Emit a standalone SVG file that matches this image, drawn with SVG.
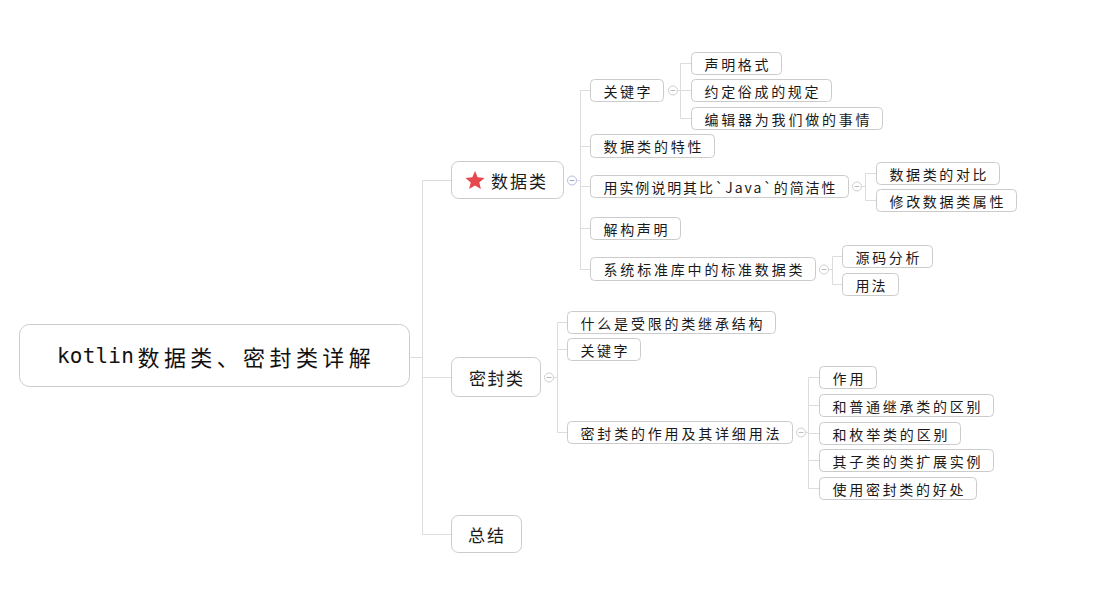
<svg xmlns="http://www.w3.org/2000/svg" width="1118" height="612" viewBox="0 0 1118 612">
<defs>
<style>
.bg{fill:#ffffff}
.n rect{fill:#ffffff;stroke:#cbcbcb;stroke-width:1}
.t{font-family:"Noto Sans CJK SC","Noto Sans",sans-serif;font-size:14px;fill:#1a1a1a;dominant-baseline:central}
.t1{font-family:"Noto Sans CJK SC","Noto Sans",sans-serif;font-size:17px;fill:#1a1a1a;dominant-baseline:central}
.t0{font-family:"Noto Sans CJK SC","Noto Sans",sans-serif;font-size:22px;fill:#111111;dominant-baseline:central}
.c path{fill:none;stroke:#dcdcdc;stroke-width:1}
.tg circle{fill:#ffffff;stroke:#cfcfcf;stroke-width:1}
.tg line{stroke:#bdbdbd;stroke-width:1}
.tg.b circle{stroke:#b4bbe2}
.tg.b line{stroke:#9ea6d6}
</style>
</defs>
<rect class="bg" x="0" y="0" width="1118" height="612"/>

<g id="connectors" class="c">
<path d="M410.5 357.5 H422.5 M422.5 180.5 V534.5 M422.5 180.5 H451 M422.5 377.5 H451 M422.5 534.5 H451"/>
<path d="M577 180.5 H580.5 M580.5 90.5 V269.5 M580.5 90.5 H590 M580.5 146.5 H590 M580.5 186.5 H590 M580.5 228.5 H590 M580.5 269.5 H590"/>
<path d="M677.5 90.5 H680.5 M680.5 63.5 V118.5 M680.5 63.5 H691 M680.5 90.5 H691 M680.5 118.5 H691"/>
<path d="M861.5 186.5 H865.5 M865.5 173.5 V200.5 M865.5 173.5 H876 M865.5 200.5 H876"/>
<path d="M828.5 269.5 H832.5 M832.5 256.5 V284.5 M832.5 256.5 H842 M832.5 284.5 H842"/>
<path d="M553.5 377.5 H557.5 M557.5 322.5 V432.5 M557.5 322.5 H567 M557.5 349.5 H567 M557.5 432.5 H567"/>
<path d="M805.5 432.5 H808.5 M808.5 377.5 V488.5 M808.5 377.5 H819 M808.5 405.5 H819 M808.5 433.5 H819 M808.5 460.5 H819 M808.5 488.5 H819"/>
</g>

<g id="toggles">
<g class="tg b"><circle cx="572" cy="180.5" r="4.5"/><line x1="569.5" y1="180.5" x2="574.5" y2="180.5"/></g>
<g class="tg"><circle cx="673" cy="90.5" r="4.5"/><line x1="670.5" y1="90.5" x2="675.5" y2="90.5"/></g>
<g class="tg"><circle cx="857" cy="186.5" r="4.5"/><line x1="854.5" y1="186.5" x2="859.5" y2="186.5"/></g>
<g class="tg"><circle cx="824" cy="269.5" r="4.5"/><line x1="821.5" y1="269.5" x2="826.5" y2="269.5"/></g>
<g class="tg"><circle cx="549" cy="377.5" r="4.5"/><line x1="546.5" y1="377.5" x2="551.5" y2="377.5"/></g>
<g class="tg"><circle cx="801" cy="432.5" r="4.5"/><line x1="798.5" y1="432.5" x2="803.5" y2="432.5"/></g>
</g>

<g id="root" class="n">
<rect x="19.5" y="324.5" width="390" height="62" rx="10"/>
<text class="t0" y="356"><tspan x="57" font-family="DejaVu Sans Mono, Liberation Mono, monospace" font-size="21" letter-spacing="0.2">kotlin</tspan><tspan x="137.5" letter-spacing="4.4">数据类、密封类详解</tspan></text>
</g>

<g id="n-data" class="n">
<rect x="451.5" y="161.5" width="112" height="37" rx="7"/>
<polygon fill="#e5484d" points="475,171 477.65,177.36 484.51,177.91 479.28,182.39 480.88,189.09 475,185.5 469.12,189.09 470.72,182.39 465.49,177.91 472.35,177.36"/>
<text class="t1" x="491" y="180.5" textLength="55" lengthAdjust="spacing">数据类</text>
</g>

<g id="n-sealed" class="n">
<rect x="451.5" y="357.5" width="89" height="39" rx="7"/>
<text class="t1" x="469" y="377.5" textLength="54" lengthAdjust="spacing">密封类</text>
</g>

<g id="n-summary" class="n">
<rect x="451.5" y="515.5" width="70" height="37" rx="7"/>
<text class="t1" x="468" y="534.5" textLength="36" lengthAdjust="spacing">总结</text>
</g>

<g id="n-keyword" class="n">
<rect x="590.5" y="79.5" width="73" height="22" rx="4"/>
<text class="t" x="603.5" y="90.5" textLength="47" lengthAdjust="spacing">关键字</text>
</g>
<g id="n-decl-format" class="n">
<rect x="691.5" y="52.5" width="90" height="22" rx="4"/>
<text class="t" x="704.5" y="63.5" textLength="64" lengthAdjust="spacing">声明格式</text>
</g>
<g id="n-convention" class="n">
<rect x="691.5" y="79.5" width="140" height="22" rx="4"/>
<text class="t" x="704.5" y="90.5" textLength="114" lengthAdjust="spacing">约定俗成的规定</text>
</g>
<g id="n-compiler" class="n">
<rect x="691.5" y="107.5" width="191" height="22" rx="4"/>
<text class="t" x="704.5" y="118.5" textLength="165" lengthAdjust="spacing">编辑器为我们做的事情</text>
</g>
<g id="n-features" class="n">
<rect x="590.5" y="134.5" width="124" height="23" rx="4"/>
<text class="t" x="603.5" y="146" textLength="98" lengthAdjust="spacing">数据类的特性</text>
</g>
<g id="n-example" class="n">
<rect x="590.5" y="175.5" width="258" height="22" rx="4"/>
<text class="t" x="603.5" y="186.5" textLength="232" lengthAdjust="spacing">用实例说明其比`Java`的简洁性</text>
</g>
<g id="n-compare" class="n">
<rect x="876.5" y="162.5" width="123" height="22" rx="4"/>
<text class="t" x="889.5" y="173.5" textLength="97" lengthAdjust="spacing">数据类的对比</text>
</g>
<g id="n-modify" class="n">
<rect x="876.5" y="189.5" width="140" height="22" rx="4"/>
<text class="t" x="889.5" y="200.5" textLength="114" lengthAdjust="spacing">修改数据类属性</text>
</g>
<g id="n-destructure" class="n">
<rect x="590.5" y="217.5" width="90" height="22" rx="4"/>
<text class="t" x="603.5" y="228.5" textLength="64" lengthAdjust="spacing">解构声明</text>
</g>
<g id="n-stdlib" class="n">
<rect x="590.5" y="257.5" width="225" height="23" rx="4"/>
<text class="t" x="603.5" y="269" textLength="199" lengthAdjust="spacing">系统标准库中的标准数据类</text>
</g>
<g id="n-source" class="n">
<rect x="842.5" y="245.5" width="90" height="22" rx="4"/>
<text class="t" x="855.5" y="256.5" textLength="64" lengthAdjust="spacing">源码分析</text>
</g>
<g id="n-usage" class="n">
<rect x="842.5" y="273.5" width="56" height="22" rx="4"/>
<text class="t" x="855.5" y="284.5" textLength="30" lengthAdjust="spacing">用法</text>
</g>

<g id="n-restricted" class="n">
<rect x="567.5" y="311.5" width="208" height="22" rx="4"/>
<text class="t" x="580.5" y="322.5" textLength="182" lengthAdjust="spacing">什么是受限的类继承结构</text>
</g>
<g id="n-keyword2" class="n">
<rect x="567.5" y="338.5" width="73" height="22" rx="4"/>
<text class="t" x="580.5" y="349.5" textLength="47" lengthAdjust="spacing">关键字</text>
</g>
<g id="n-sealed-usage" class="n">
<rect x="567.5" y="421.5" width="225" height="22" rx="4"/>
<text class="t" x="580.5" y="432.5" textLength="199" lengthAdjust="spacing">密封类的作用及其详细用法</text>
</g>
<g id="n-role" class="n">
<rect x="819.5" y="366.5" width="57" height="22" rx="4"/>
<text class="t" x="832.5" y="377.5" textLength="31" lengthAdjust="spacing">作用</text>
</g>
<g id="n-vs-inherit" class="n">
<rect x="819.5" y="394.5" width="174" height="22" rx="4"/>
<text class="t" x="832.5" y="405.5" textLength="148" lengthAdjust="spacing">和普通继承类的区别</text>
</g>
<g id="n-vs-enum" class="n">
<rect x="819.5" y="422.5" width="141" height="22" rx="4"/>
<text class="t" x="832.5" y="433.5" textLength="115" lengthAdjust="spacing">和枚举类的区别</text>
</g>
<g id="n-subclass" class="n">
<rect x="819.5" y="449.5" width="174" height="22" rx="4"/>
<text class="t" x="832.5" y="460.5" textLength="148" lengthAdjust="spacing">其子类的类扩展实例</text>
</g>
<g id="n-benefit" class="n">
<rect x="819.5" y="477.5" width="157" height="22" rx="4"/>
<text class="t" x="832.5" y="488.5" textLength="131" lengthAdjust="spacing">使用密封类的好处</text>
</g>
</svg>
